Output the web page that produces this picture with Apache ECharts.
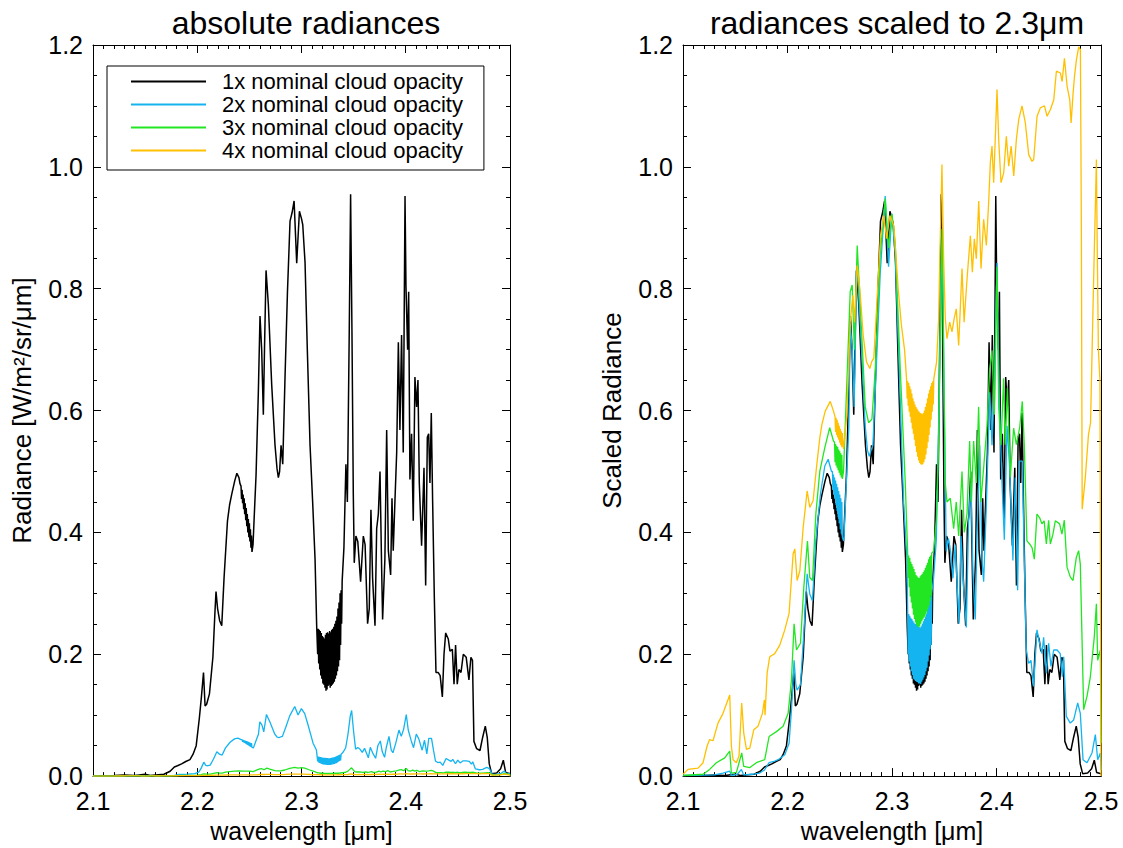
<!DOCTYPE html>
<html>
<head>
<meta charset="utf-8">
<script src="https://cdn.jsdelivr.net/npm/echarts@6/dist/echarts.min.js"></script>
<style>
html,body{margin:0;padding:0;background:#fff;}
#chart{width:1123px;height:848px;}
</style>
</head>
<body>
<div id="chart"></div>
<script>
// ---------------- data ----------------
const seriesNames = ['1x nominal cloud opacity','2x nominal cloud opacity','3x nominal cloud opacity','4x nominal cloud opacity'];
const panelTitles = ['absolute radiances','radiances scaled to 2.3\u03bcm'];
const yAxisNames = ['Radiance [W/m\u00b2/sr/\u03bcm]','Scaled Radiance'];
const xAxisName = 'wavelength [\u03bcm]';

// 1x cloud opacity radiance (identical in both panels: scaling factor 1)
const black1x = [[2.100,0.000],[2.120,0.001],[2.130,0.002],[2.140,0.001],[2.150,0.003],[2.155,0.001],[2.160,0.002],[2.168,0.003],[2.174,0.008],[2.178,0.015],[2.181,0.017],[2.185,0.020],[2.189,0.024],[2.193,0.027],[2.196,0.036],[2.199,0.050],[2.202,0.095],[2.204,0.130],[2.206,0.170],[2.2075,0.115],[2.209,0.118],[2.2117,0.135],[2.215,0.195],[2.217,0.270],[2.218,0.303],[2.2195,0.275],[2.2215,0.255],[2.2235,0.247],[2.2257,0.325],[2.229,0.419],[2.231,0.445],[2.233,0.462],[2.236,0.485],[2.238,0.497],[2.240,0.490],[2.241,0.480],
[2.2420,0.476],[2.2425,0.455],[2.2430,0.470],[2.2435,0.448],[2.2440,0.462],[2.2445,0.438],[2.2450,0.456],[2.2455,0.430],[2.2460,0.448],[2.2465,0.420],[2.2470,0.440],[2.2475,0.410],[2.2480,0.430],[2.2485,0.400],[2.2490,0.422],[2.2495,0.392],[2.2500,0.415],[2.2505,0.385],[2.2510,0.405],[2.2515,0.375],[2.2520,0.395],[2.2525,0.368],
[2.2535,0.380],[2.2545,0.420],[2.2564,0.494],[2.2586,0.630],[2.2602,0.755],[2.2618,0.700],[2.2634,0.593],[2.2645,0.700],[2.266,0.830],[2.2682,0.774],[2.2714,0.643],[2.2746,0.543],[2.2765,0.505],[2.2778,0.490],[2.279,0.500],[2.2804,0.543],[2.282,0.512],[2.2842,0.655],[2.2865,0.793],[2.289,0.911],[2.291,0.925],[2.2929,0.944],[2.2954,0.842],[2.298,0.927],[2.3000,0.915],[2.3012,0.905],[2.3034,0.843],[2.3056,0.699],[2.3082,0.543],[2.3107,0.450],[2.313,0.356],[2.3146,0.244],
[2.3150,0.244],[2.3155,0.200],[2.3160,0.242],[2.3165,0.185],[2.3170,0.240],[2.3175,0.175],[2.3180,0.238],[2.3185,0.165],[2.3190,0.235],[2.3195,0.160],[2.3200,0.230],[2.3205,0.152],[2.3210,0.228],[2.3215,0.150],[2.3220,0.226],[2.3225,0.145],[2.3230,0.232],[2.3235,0.140],[2.3240,0.235],[2.3245,0.142],[2.3250,0.236],[2.3255,0.148],[2.3260,0.234],[2.3265,0.150],[2.3270,0.238],[2.3275,0.145],[2.3280,0.236],[2.3285,0.148],[2.3290,0.240],[2.3295,0.150],[2.3300,0.242],[2.3305,0.152],[2.3310,0.245],[2.3315,0.155],[2.3320,0.250],[2.3325,0.160],[2.3330,0.255],[2.3335,0.165],[2.3340,0.262],[2.3345,0.172],[2.3350,0.275],[2.3355,0.180],[2.3360,0.285],[2.3365,0.190],[2.3370,0.300],[2.3375,0.215],[2.3380,0.305],[2.3385,0.250],[2.3390,0.320],
[2.3407,0.375],[2.3426,0.512],[2.344,0.450],[2.3458,0.730],[2.3471,0.955],[2.3484,0.730],[2.3497,0.462],[2.3506,0.350],[2.3522,0.394],[2.354,0.385],[2.3567,0.319],[2.3593,0.394],[2.361,0.380],[2.3634,0.250],[2.3650,0.275],[2.3666,0.437],[2.3682,0.325],[2.3705,0.247],[2.3721,0.406],[2.3737,0.430],[2.3753,0.500],[2.3769,0.338],[2.3778,0.257],[2.380,0.357],[2.3817,0.568],[2.3833,0.370],[2.3855,0.330],[2.3868,0.456],[2.388,0.370],[2.3896,0.450],[2.3913,0.531],[2.3929,0.712],[2.3944,0.568],[2.396,0.724],[2.3976,0.531],[2.3993,0.952],[2.4002,0.805],[2.4018,0.700],[2.4028,0.795],[2.404,0.487],[2.4056,0.562],[2.4072,0.419],[2.4088,0.655],[2.4104,0.606],[2.4117,0.650],[2.413,0.481],[2.4152,0.378],[2.4175,0.506],[2.4191,0.313],[2.4207,0.556],[2.4220,0.562],[2.4232,0.481],[2.4245,0.596],[2.4258,0.450],[2.4274,0.294],[2.429,0.170],[2.4312,0.170],[2.433,0.165],[2.4351,0.130],[2.4367,0.200],[2.4383,0.235],[2.4408,0.225],[2.4424,0.205],[2.4447,0.208],[2.4463,0.151],[2.4478,0.215],[2.4494,0.151],[2.451,0.175],[2.453,0.170],[2.4552,0.200],[2.458,0.195],[2.4606,0.158],[2.4625,0.195],[2.464,0.190],[2.4654,0.057],[2.468,0.045],[2.4712,0.042],[2.4737,0.063],[2.4763,0.082],[2.4782,0.063],[2.4801,0.020],[2.4824,0.004],[2.4872,0.005],[2.491,0.012],[2.4936,0.026],[2.4958,0.006],[2.500,0.004]];

// 2x cloud opacity, scaled to 2.3 um
const blue2xScaled = [[2.100,0.001],[2.130,0.002],[2.1383,0.005],[2.1447,0.008],[2.1463,0.001],[2.152,0.003],[2.1559,0.011],[2.158,0.002],[2.166,0.003],[2.1734,0.005],[2.178,0.010],[2.1824,0.022],[2.187,0.024],[2.191,0.027],[2.1974,0.035],[2.2015,0.054],[2.2038,0.109],[2.2063,0.190],[2.2080,0.150],[2.2092,0.141],[2.2124,0.150],[2.2156,0.234],[2.2188,0.332],[2.2213,0.299],[2.2239,0.288],[2.2271,0.386],[2.2315,0.463],[2.2357,0.509],[2.2389,0.520],[2.2421,0.500],
[2.2430,0.500],[2.2435,0.470],[2.2440,0.495],[2.2445,0.462],[2.2450,0.490],[2.2455,0.455],[2.2460,0.485],[2.2465,0.445],[2.2470,0.480],[2.2475,0.435],[2.2480,0.474],[2.2485,0.425],[2.2490,0.468],[2.2495,0.415],[2.2500,0.462],[2.2505,0.405],[2.2510,0.456],[2.2515,0.398],[2.2520,0.450],[2.2525,0.392],
[2.2539,0.386],[2.2560,0.470],[2.2587,0.571],[2.260,0.743],[2.2620,0.700],[2.2638,0.606],[2.2664,0.843],[2.2696,0.743],[2.2744,0.574],[2.2765,0.535],[2.2782,0.525],[2.280,0.535],[2.2817,0.543],[2.2849,0.668],[2.2887,0.824],[2.2935,0.952],[2.2967,0.836],[2.2999,0.923],[2.3031,0.855],[2.3063,0.699],[2.3111,0.450],[2.3143,0.356],
[2.3150,0.270],[2.3155,0.200],[2.3160,0.266],[2.3165,0.188],[2.3170,0.263],[2.3175,0.180],[2.3180,0.260],[2.3185,0.172],[2.3190,0.258],[2.3195,0.166],[2.3200,0.255],[2.3205,0.160],[2.3210,0.252],[2.3215,0.158],[2.3220,0.250],[2.3225,0.156],[2.3230,0.250],[2.3235,0.155],[2.3240,0.248],[2.3245,0.154],[2.3250,0.246],[2.3255,0.152],[2.3260,0.245],[2.3265,0.152],[2.3270,0.244],[2.3275,0.151],[2.3280,0.246],[2.3285,0.155],[2.3290,0.250],[2.3295,0.158],[2.3300,0.254],[2.3305,0.162],[2.3310,0.258],[2.3315,0.166],[2.3320,0.262],[2.3325,0.172],[2.3330,0.266],[2.3335,0.178],[2.3340,0.275],[2.3345,0.188],[2.3350,0.282],[2.3355,0.198],[2.3360,0.288],[2.3365,0.208],[2.3370,0.294],[2.3375,0.215],[2.3380,0.300],
[2.3398,0.325],[2.3424,0.388],[2.3446,0.575],[2.3468,0.824],[2.3481,0.898],[2.3500,0.606],[2.3519,0.369],[2.354,0.390],[2.356,0.370],[2.3583,0.325],[2.3605,0.380],[2.3641,0.250],[2.3660,0.394],[2.3686,0.307],[2.3711,0.244],[2.3733,0.419],[2.3756,0.481],[2.3775,0.332],[2.3797,0.257],[2.3813,0.388],[2.3839,0.543],[2.3861,0.356],[2.3877,0.319],[2.3903,0.444],[2.3935,0.630],[2.3957,0.543],[2.3979,0.637],[2.4005,0.842],[2.4024,0.630],[2.4053,0.481],[2.4075,0.388],[2.4101,0.575],[2.4126,0.506],[2.4157,0.354],[2.4180,0.490],[2.4202,0.305],[2.4221,0.517],[2.4247,0.517],[2.4266,0.354],[2.4285,0.207],[2.4307,0.185],[2.4330,0.190],[2.4355,0.147],[2.4387,0.240],[2.4413,0.218],[2.4435,0.201],[2.4451,0.228],[2.4477,0.169],[2.4499,0.218],[2.4521,0.180],[2.4547,0.207],[2.458,0.207],[2.461,0.201],[2.4630,0.163],[2.4643,0.196],[2.4668,0.098],[2.4706,0.087],[2.4738,0.092],[2.4777,0.120],[2.4802,0.103],[2.4828,0.027],[2.4866,0.022],[2.4914,0.038],[2.4946,0.068],[2.4968,0.027],[2.4994,0.038],[2.500,0.010]];

// 3x cloud opacity, scaled to 2.3 um
const green3xScaled = [[2.100,0.001],[2.1192,0.003],[2.1255,0.011],[2.1319,0.022],[2.1399,0.030],[2.1447,0.041],[2.1463,0.005],[2.1511,0.006],[2.1562,0.038],[2.1581,0.016],[2.164,0.014],[2.1702,0.022],[2.1782,0.027],[2.1824,0.065],[2.1894,0.073],[2.1958,0.082],[2.2006,0.103],[2.2038,0.158],[2.2063,0.250],[2.2086,0.207],[2.2124,0.218],[2.2156,0.310],[2.2191,0.386],[2.2213,0.326],[2.2239,0.321],[2.2271,0.430],[2.2309,0.500],[2.2357,0.539],[2.2404,0.572],[2.2440,0.550],
[2.2450,0.548],[2.2455,0.515],[2.2460,0.545],[2.2465,0.510],[2.2470,0.542],[2.2475,0.506],[2.2480,0.540],[2.2485,0.502],[2.2490,0.536],[2.2495,0.498],[2.2500,0.533],[2.2505,0.494],[2.2510,0.530],[2.2515,0.490],[2.2520,0.527],[2.2525,0.488],
[2.2536,0.500],[2.2568,0.647],[2.2600,0.795],[2.2619,0.806],[2.2640,0.700],[2.2667,0.871],[2.2696,0.774],[2.2744,0.606],[2.2776,0.580],[2.2808,0.586],[2.2840,0.668],[2.2887,0.855],[2.2935,0.948],[2.2967,0.867],[2.2999,0.923],[2.3031,0.874],[2.3079,0.668],[2.3127,0.481],
[2.3150,0.365],[2.3155,0.325],[2.3160,0.362],[2.3165,0.310],[2.3170,0.358],[2.3175,0.295],[2.3180,0.352],[2.3185,0.285],[2.3190,0.348],[2.3195,0.275],[2.3200,0.344],[2.3205,0.265],[2.3210,0.340],[2.3215,0.258],[2.3220,0.335],[2.3225,0.252],[2.3230,0.330],[2.3235,0.248],[2.3240,0.328],[2.3245,0.245],[2.3250,0.326],[2.3255,0.244],[2.3260,0.325],[2.3265,0.246],[2.3270,0.328],[2.3275,0.250],[2.3280,0.330],[2.3285,0.254],[2.3290,0.332],[2.3295,0.257],[2.3300,0.335],[2.3305,0.260],[2.3310,0.338],[2.3315,0.262],[2.3320,0.342],[2.3325,0.266],[2.3330,0.346],[2.3335,0.270],[2.3340,0.350],[2.3345,0.275],[2.3350,0.356],[2.3355,0.280],[2.3360,0.360],[2.3365,0.288],[2.3370,0.362],[2.3375,0.296],[2.3380,0.366],
[2.3398,0.369],[2.3424,0.420],[2.3446,0.543],[2.3468,0.793],[2.3481,0.898],[2.3494,0.700],[2.3510,0.481],[2.3526,0.450],[2.3558,0.456],[2.3590,0.406],[2.3615,0.450],[2.3638,0.394],[2.3670,0.500],[2.3692,0.400],[2.3718,0.431],[2.3743,0.550],[2.3760,0.450],[2.3781,0.550],[2.3807,0.481],[2.3829,0.606],[2.3850,0.450],[2.3877,0.506],[2.3909,0.575],[2.3935,0.668],[2.3957,0.699],[2.3979,0.593],[2.4005,0.836],[2.4021,0.606],[2.4043,0.543],[2.4068,0.653],[2.4084,0.544],[2.4105,0.637],[2.4132,0.490],[2.4164,0.571],[2.4190,0.544],[2.4221,0.571],[2.4247,0.615],[2.4266,0.544],[2.4291,0.386],[2.4317,0.381],[2.4340,0.375],[2.4362,0.356],[2.4387,0.430],[2.4413,0.424],[2.4435,0.414],[2.4456,0.419],[2.4477,0.381],[2.4499,0.420],[2.4515,0.381],[2.4540,0.397],[2.4563,0.419],[2.4604,0.414],[2.4626,0.397],[2.4649,0.420],[2.4675,0.343],[2.4706,0.327],[2.4732,0.321],[2.4764,0.359],[2.4786,0.370],[2.4802,0.348],[2.4834,0.109],[2.4866,0.131],[2.4898,0.163],[2.4936,0.229],[2.4956,0.283],[2.4968,0.190],[2.4994,0.207],[2.5000,0.054]];

// 4x cloud opacity, scaled to 2.3 um
const orange4xScaled = [[2.100,0.003],[2.1048,0.011],[2.1144,0.013],[2.1192,0.022],[2.1230,0.049],[2.1255,0.060],[2.1287,0.058],[2.1335,0.087],[2.1383,0.103],[2.1447,0.133],[2.1463,0.049],[2.1479,0.027],[2.1511,0.022],[2.1536,0.033],[2.1562,0.120],[2.1581,0.071],[2.1607,0.044],[2.1639,0.046],[2.1677,0.076],[2.1718,0.082],[2.1760,0.103],[2.1779,0.125],[2.1785,0.100],[2.1805,0.169],[2.1830,0.196],[2.1878,0.201],[2.1926,0.215],[2.1974,0.240],[2.2015,0.267],[2.2054,0.365],[2.2070,0.373],[2.2092,0.321],[2.2118,0.337],[2.2150,0.408],[2.2188,0.468],[2.2213,0.441],[2.2245,0.452],[2.2277,0.506],[2.2309,0.555],[2.2329,0.577],[2.2361,0.599],[2.2409,0.615],[2.2440,0.599],
[2.2455,0.590],[2.2460,0.565],[2.2465,0.588],[2.2470,0.560],[2.2475,0.585],[2.2480,0.556],[2.2485,0.580],[2.2490,0.552],[2.2495,0.575],[2.2500,0.547],[2.2505,0.570],[2.2510,0.543],[2.2515,0.566],[2.2520,0.540],[2.2525,0.563],
[2.2536,0.537],[2.2568,0.593],[2.2600,0.745],[2.2625,0.789],[2.2641,0.745],[2.2667,0.838],[2.2692,0.800],[2.2724,0.724],[2.2756,0.680],[2.2788,0.669],[2.2805,0.680],[2.2826,0.686],[2.2852,0.767],[2.2890,0.887],[2.2922,0.920],[2.2948,0.882],[2.2980,0.920],[2.3018,0.903],[2.3059,0.800],[2.3090,0.740],[2.3120,0.700],
[2.3140,0.650],[2.3145,0.620],[2.3150,0.648],[2.3155,0.608],[2.3160,0.645],[2.3165,0.598],[2.3170,0.640],[2.3175,0.590],[2.3180,0.635],[2.3185,0.580],[2.3190,0.628],[2.3195,0.570],[2.3200,0.620],[2.3205,0.562],[2.3210,0.615],[2.3215,0.552],[2.3220,0.610],[2.3225,0.542],[2.3230,0.606],[2.3235,0.532],[2.3240,0.603],[2.3245,0.524],[2.3250,0.600],[2.3255,0.518],[2.3260,0.598],[2.3265,0.514],[2.3270,0.596],[2.3275,0.512],[2.3280,0.595],[2.3285,0.511],[2.3290,0.594],[2.3295,0.512],[2.3300,0.596],[2.3305,0.515],[2.3310,0.600],[2.3315,0.520],[2.3320,0.606],[2.3325,0.528],[2.3330,0.612],[2.3335,0.538],[2.3340,0.620],[2.3345,0.548],[2.3350,0.628],[2.3355,0.560],[2.3360,0.634],[2.3365,0.572],[2.3370,0.640],[2.3375,0.585],[2.3380,0.645],[2.3385,0.598],[2.3390,0.648],[2.3395,0.610],[2.3400,0.652],
[2.3427,0.680],[2.3446,0.750],[2.3462,0.882],[2.3478,1.004],[2.3494,0.850],[2.3510,0.751],[2.3526,0.718],[2.3552,0.745],[2.3574,0.729],[2.3595,0.751],[2.3615,0.767],[2.3638,0.707],[2.3670,0.833],[2.3690,0.745],[2.3718,0.816],[2.3750,0.887],[2.3769,0.827],[2.3788,0.882],[2.3807,0.849],[2.3830,0.944],[2.3852,0.833],[2.3877,0.914],[2.3903,0.871],[2.3925,0.942],[2.3941,1.007],[2.3957,1.034],[2.3973,0.974],[2.4005,1.127],[2.4021,1.045],[2.4043,0.974],[2.4069,0.990],[2.4094,1.050],[2.4117,1.001],[2.4140,1.034],[2.4165,0.985],[2.4190,1.045],[2.4213,1.078],[2.4244,1.100],[2.4276,1.072],[2.4308,1.020],[2.4340,1.009],[2.4356,1.012],[2.4388,1.083],[2.4420,1.097],[2.4459,1.100],[2.4484,1.083],[2.4516,1.094],[2.4548,1.110],[2.4573,1.157],[2.4612,1.154],[2.4628,1.140],[2.4650,1.178],[2.4676,1.132],[2.4701,1.110],[2.4714,1.072],[2.4733,1.121],[2.4746,1.148],[2.4765,1.176],[2.4787,1.197],[2.4803,1.192],[2.4812,0.900],[2.4820,0.438],[2.4850,0.490],[2.4880,0.560],[2.4900,0.580],[2.4931,0.827],[2.4947,0.942],[2.4956,1.012],[2.4962,0.900],[2.4975,0.700],[2.4990,0.650],[2.4995,0.300],[2.5000,0.000]];

// ratio of absolute radiance to scaled radiance for each opacity (left panel = scaled x ratio)
const absRatio = [1.0, 0.12, 0.015, 0.0035];
const xTicks = {min: 2.1, max: 2.5, interval: 0.1};
const yTicks = {min: 0.0, max: 1.2, interval: 0.2};

// ---------------- chart ----------------
const colors = ['#000000', '#14b4f0', '#22e622', '#ffc000'];
const lineWidths = [1.5, 1.3, 1.3, 1.3];
const FONT = 'Liberation Sans, Arial, Helvetica, sans-serif';
const scaledSets = [black1x, blue2xScaled, green3xScaled, orange4xScaled];
const absSets = scaledSets.map((s, i) => s.map(p => [p[0], p[1] * absRatio[i]]));

const chart = echarts.init(document.getElementById('chart'), null, {renderer: 'svg'});

const grids = [
  {left: 93, top: 45, width: 417, height: 735},
  {left: 683, top: 45, width: 418, height: 735}
];

function xAxes(gi) {
  const common = {
    type: 'value', gridIndex: gi, min: xTicks.min, max: xTicks.max, interval: xTicks.interval,
    axisLine: {show: true, onZero: false, lineStyle: {color: '#000', width: 1}},
    axisTick: {show: true, inside: true, length: 8, lineStyle: {color: '#000', width: 1}},
    minorTick: {show: true, splitNumber: 10, length: 4, lineStyle: {color: '#000', width: 1}},
    splitLine: {show: false}, minorSplitLine: {show: false}
  };
  return [
    Object.assign({}, common, {
      position: 'bottom',
      axisLabel: {show: true, fontSize: 25, color: '#000', fontFamily: FONT, margin: 12,
        formatter: v => v.toFixed(1)},
      name: xAxisName, nameLocation: 'middle', nameGap: 40,
      nameTextStyle: {fontSize: 25, color: '#000', fontFamily: FONT}
    }),
    Object.assign({}, common, {position: 'top', axisLabel: {show: false}})
  ];
}
function yAxes(gi) {
  const common = {
    type: 'value', gridIndex: gi, min: yTicks.min, max: yTicks.max, interval: yTicks.interval,
    axisLine: {show: true, onZero: false, lineStyle: {color: '#000', width: 1}},
    axisTick: {show: true, inside: true, length: 8, lineStyle: {color: '#000', width: 1}},
    minorTick: {show: true, splitNumber: 4, length: 4, lineStyle: {color: '#000', width: 1}},
    splitLine: {show: false}, minorSplitLine: {show: false}
  };
  return [
    Object.assign({}, common, {
      position: 'left',
      axisLabel: {show: true, fontSize: 25, color: '#000', fontFamily: FONT, margin: 10,
        formatter: v => v.toFixed(1)},
      name: yAxisNames[gi], nameLocation: 'middle', nameGap: 58,
      nameTextStyle: {fontSize: 26, color: '#000', fontFamily: FONT}
    }),
    Object.assign({}, common, {position: 'right', axisLabel: {show: false}})
  ];
}

const series = [];
[absSets, scaledSets].forEach((sets, gi) => {
  sets.forEach((data, i) => {
    series.push({
      type: 'line', name: seriesNames[i], data: data,
      xAxisIndex: gi * 2, yAxisIndex: gi * 2,
      showSymbol: false, symbol: 'none', silent: true, clip: true,
      lineStyle: {color: colors[i], width: lineWidths[i]},
      itemStyle: {color: colors[i]},
      emphasis: {disabled: true}, z: 2 + i
    });
  });
});

chart.setOption({
  animation: false,
  backgroundColor: '#ffffff',
  title: panelTitles.map((t, gi) => ({
    text: t, left: gi === 0 ? 301 : 892, top: 2, textAlign: 'center',
    textStyle: {fontSize: 32, fontWeight: 'normal', color: '#000', fontFamily: FONT}
  })),
  legend: {
    show: true, orient: 'vertical', left: 107, top: 66, selectedMode: false,
    data: seriesNames,
    icon: 'rect', itemWidth: 75, itemHeight: 2, itemGap: 0,
    padding: [4, 21, 8, 24],
    borderColor: '#000', borderWidth: 1, backgroundColor: '#fff',
    textStyle: {fontSize: 22, lineHeight: 23, color: '#000', fontFamily: FONT, padding: [0, 0, 0, 11]}
  },
  grid: grids,
  xAxis: xAxes(0).concat(xAxes(1)),
  yAxis: yAxes(0).concat(yAxes(1)),
  series: series
});
</script>
</body>
</html>
